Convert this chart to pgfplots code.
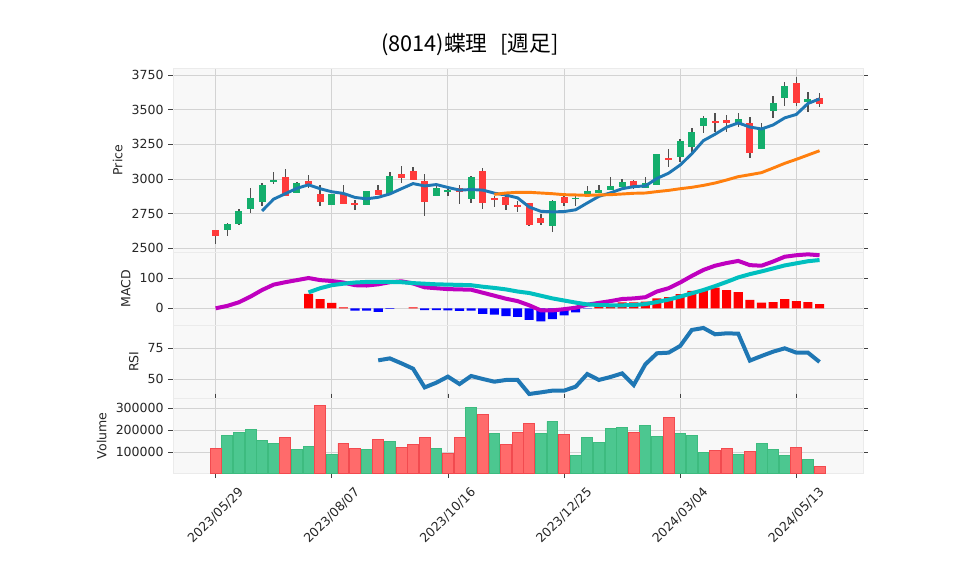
\documentclass[border=0pt]{standalone}
\usepackage{fontspec}
\setmainfont{DejaVu Sans}
\newfontfamily\jpfont{Noto Sans CJK JP}
\usepackage{pgfplots}
\usepackage{pgfplotstable}
\pgfplotsset{compat=1.18}

\definecolor{upc}{HTML}{14AE6C}
\definecolor{dnc}{HTML}{FF3B3B}
\definecolor{wick}{HTML}{505050}
\definecolor{ma5}{HTML}{1F77B4}
\definecolor{ma25}{HTML}{FF7F0E}
\definecolor{macdc}{HTML}{BF00BF}
\definecolor{sigc}{HTML}{00BFBF}
\definecolor{vup}{HTML}{4CC790}
\definecolor{vupe}{HTML}{3DBB7F}
\definecolor{vdn}{HTML}{FF6B6B}
\definecolor{vdne}{HTML}{F24A4F}
\definecolor{panel}{HTML}{F8F8F8}
\definecolor{gridc}{HTML}{D3D3D3}

% weekly candles, i = weeks since 2023/05/29
\pgfplotstableread{
i O H L C
1 2635 2685 2589 2675
2 2678 2786 2670 2769
3 2786 2933 2752 2863
4 2836 2969 2808 2954
5 2983 3048 2964 2993
7 2897 2981 2897 2969
10 2815 2895 2810 2889
13 2815 2915 2810 2911
15 2889 3048 2889 3019
19 2875 2954 2875 2935
20 2909 2935 2878 2920
22 2853 3022 2824 3014
29 2659 2849 2620 2839
31 2863 2889 2808 2866
32 2894 2947 2868 2911
33 2901 2959 2901 2920
34 2923 3012 2923 2949
35 2942 3000 2942 2978
37 2938 3017 2938 2969
38 2959 3178 2959 3178
40 3159 3286 3125 3274
41 3233 3365 3173 3339
42 3380 3454 3329 3440
45 3401 3474 3377 3430
47 3219 3401 3214 3365
48 3488 3601 3438 3548
49 3582 3697 3526 3668
51 3553 3630 3486 3577
}\upcandles

\pgfplotstableread{
i O H L C
0 2630 2635 2529 2591
6 3012 3070 2877 2877
8 2983 3026 2933 2964
9 2889 2959 2805 2832
11 2901 2959 2822 2822
12 2824 2846 2776 2815
14 2920 2959 2884 2884
16 3034 3096 2969 3010
17 3055 3089 2993 2993
18 2983 3034 2735 2836
21 2935 2959 2820 2904
23 3055 3077 2783 2829
24 2865 2880 2800 2851
25 2870 2887 2774 2815
26 2812 2839 2764 2800
27 2824 2824 2661 2670
28 2719 2748 2666 2685
30 2873 2889 2808 2824
36 2983 2993 2926 2945
39 3151 3214 3084 3144
43 3416 3474 3341 3406
44 3425 3459 3336 3406
46 3404 3450 3149 3190
50 3690 3733 3529 3550
52 3582 3618 3522 3538
}\dncandles

\pgfplotstableread{
i V
1 177000
2 191000
3 205000
4 155000
5 141000
7 114000
8 127000
10 91000
13 114000
15 150000
19 118000
22 305000
24 186000
28 186000
29 241000
31 86000
32 168000
33 145000
34 209000
35 214000
37 223000
38 173000
40 186000
41 177000
42 100000
45 91000
47 141000
48 114000
49 86000
51 68000
}\volup

\pgfplotstableread{
i V
0 118000
6 168000
9 312000
11 141000
12 118000
14 159000
16 123000
17 136000
18 168000
20 95000
21 168000
23 273000
25 136000
26 191000
27 232000
30 182000
36 191000
39 259000
43 109000
44 118000
46 105000
50 123000
52 36000
}\voldn

\pgfplotstableread{
i h
8 48
9 31
10 18
11 3
17 3
33 5
34 14
35 20
36 20
37 22
38 33
39 37
40 47
41 58
42 63
43 69
44 61
45 54
46 28
47 19
48 21
49 31
50 24
51 21
52 14
}\histpos

\pgfplotstableread{
i h
12 -8
13 -8
14 -12
15 -2
18 -6
19 -6
20 -7
21 -9
22 -8
23 -19
24 -21
25 -26
26 -29
27 -39
28 -44
29 -36
30 -24
31 -14
32 -1
}\histneg

\pgfplotsset{
  panel/.style={
    scale only axis, width=517.5pt, anchor=south west,
    xmin=-3.67, xmax=55.74,
    axis background/.style={fill=panel},
    axis line style={draw=black!8},
    grid=major, grid style={draw=gridc, line width=0.7pt},
    xtick={0,10,...,50},
    tick align=outside, major tick length=3.5pt,
    tick style={draw=black!75, line width=0.6pt},
    ticklabel style={font=\fontsize{9.4}{11}\selectfont, text=black!85},
    label style={font=\fontsize{9.4}{11}\selectfont, text=black!85},
    /pgf/number format/assume math mode=true,
    /pgf/number format/1000 sep={},
    scaled y ticks=false,
  },
  nox/.style={xticklabels={}, xtick style={draw=none}},
  stick/.style={only marks, mark=*, mark size=0pt,
    mark options={draw opacity=0, fill opacity=0}, forget plot},
}

\begin{document}
\begin{tikzpicture}
\path[use as bounding box] (0,0) rectangle (718.5pt,431.25pt);

\node[font=\jpfont\fontsize{16.3}{19}\selectfont] at (352.5pt,397.5pt) {(8014)蝶理\hspace{0.6em}[週足]};

% price
\begin{axis}[panel, nox, at={(129.75pt,242pt)}, height=138.2pt,
  ymin=2471, ymax=3800.5, ytick={2500,2750,...,3750}, ylabel={Price}]
\addplot[stick,
  error bars/.cd, y dir=both, y explicit, error mark=none,
  error bar style={draw=wick, line width=1.1pt}]
  table[x=i, y expr={(\thisrow{H}+\thisrow{L})/2}, y error expr={(\thisrow{H}-\thisrow{L})/2}] {\upcandles};
\addplot[stick,
  error bars/.cd, y dir=both, y explicit, error mark=none,
  error bar style={draw=wick, line width=1.1pt}]
  table[x=i, y expr={(\thisrow{H}+\thisrow{L})/2}, y error expr={(\thisrow{H}-\thisrow{L})/2}] {\dncandles};
\addplot[stick,
  error bars/.cd, y dir=both, y explicit, error mark=none,
  error bar style={draw=upc, line width=5.25pt}]
  table[x=i, y expr={(\thisrow{O}+\thisrow{C})/2}, y error expr={(\thisrow{C}-\thisrow{O})/2}] {\upcandles};
\addplot[stick,
  error bars/.cd, y dir=both, y explicit, error mark=none,
  error bar style={draw=dnc, line width=5.25pt}]
  table[x=i, y expr={(\thisrow{O}+\thisrow{C})/2}, y error expr={(\thisrow{O}-\thisrow{C})/2}] {\dncandles};
% 5-week and 25-week moving averages
\addplot[ma5, line width=2.2pt] coordinates {
(4,2770)(5,2855)(6,2894)(7,2933)(8,2958)(9,2930)(10,2908)(11,2896)(12,2867)
(13,2857)(14,2868)(15,2892)(16,2930)(17,2967)(18,2950)(19,2960)(20,2939)
(21,2920)(22,2924)(23,2920)(24,2898)(25,2884)(26,2864)(27,2798)(28,2767)
(29,2763)(30,2765)(31,2778)(32,2827)(33,2875)(34,2900)(35,2930)(36,2945)
(37,2950)(38,3004)(39,3042)(40,3101)(41,3182)(42,3277)(43,3323)(44,3374)
(45,3405)(46,3375)(47,3361)(48,3390)(49,3441)(50,3466)(51,3545)(52,3578)};
\addplot[ma25, line width=2.2pt] coordinates {
(24,2889)(25,2899)(26,2904)(27,2904)(28,2899)(29,2894)(30,2887)(31,2885)
(32,2882)(33,2885)(34,2887)(35,2892)(36,2897)(37,2899)(38,2909)(39,2918)
(40,2930)(41,2940)(42,2954)(43,2971)(44,2993)(45,3017)(46,3031)(47,3046)
(48,3079)(49,3113)(50,3142)(51,3173)(52,3204)};
\end{axis}

% MACD
\begin{axis}[panel, nox, at={(129.75pt,187.5pt)}, height=54.5pt,
  ymin=-55.7, ymax=186.7, ytick={0,100}, ylabel={MACD}]
\addplot[ybar, bar width=0.78, bar shift=0pt, fill=red, draw=none] table[x=i, y=h] {\histpos};
\addplot[ybar, bar width=0.78, bar shift=0pt, fill=blue, draw=none] table[x=i, y=h] {\histneg};
\addplot[macdc, line width=3pt] coordinates {
(0,0)(1,8)(2,20)(3,39)(4,61)(5,79)(6,87)(7,94)(8,101)(9,94)(10,91)(11,86)
(12,77)(13,76)(14,80)(15,87)(16,90)(17,83)(18,70)(19,67)(20,64)(21,63)
(22,62)(23,52)(24,42)(25,32)(26,24)(27,10)(28,-7)(29,-7)(30,-3)(31,2)
(32,12)(33,18)(34,24)(35,31)(36,33)(37,37)(38,56)(39,67)(40,86)(41,108)
(42,128)(43,142)(44,151)(45,158)(46,144)(47,142)(48,156)(49,172)(50,177)
(51,180)(52,177)};
\addplot[sigc, line width=3pt] coordinates {
(8,53)(9,67)(10,77)(11,82)(12,86)(13,88)(14,88)(15,88)(16,87)(17,84)(18,82)
(19,80)(20,79)(21,78)(22,77)(23,72)(24,68)(25,63)(26,56)(27,51)(28,42)
(29,33)(30,26)(31,19)(32,13)(33,11)(34,10)(35,10)(36,11)(37,14)(38,21)
(39,29)(40,39)(41,50)(42,61)(43,74)(44,88)(45,103)(46,114)(47,123)(48,133)
(49,143)(50,150)(51,157)(52,161)};
\end{axis}

% RSI
\begin{axis}[panel, nox, at={(129.75pt,132.5pt)}, height=55pt,
  ymin=34.7, ymax=93.8, ytick={50,75}, ylabel={RSI}]
\addplot[ma5, line width=3pt] coordinates {
(14,65.3)(15,66.9)(16,62.9)(17,58.6)(18,43.5)(19,47.3)(20,52.2)(21,46.2)
(22,52.7)(23,50.3)(24,48.1)(25,49.5)(26,49.5)(27,38.2)(28,39.5)(29,40.9)
(30,40.9)(31,44.1)(32,54.3)(33,49.5)(34,51.9)(35,54.8)(36,45.4)(37,62.1)
(38,71.0)(39,71.5)(40,76.9)(41,89.8)(42,91.4)(43,86.3)(44,87.1)(45,86.8)
(46,65.1)(47,68.8)(48,72.3)(49,75.0)(50,71.5)(51,71.5)(52,64.0)};
\end{axis}

% volume
\begin{axis}[panel, at={(129.75pt,76.1pt)}, height=56.4pt,
  ymin=3600, ymax=345400, ytick={100000,200000,300000},
  yticklabels={100000,200000,300000}, ylabel={Volume},
  xticklabels={2023/05/29,2023/08/07,2023/10/16,2023/12/25,2024/03/04,2024/05/13},
  xticklabel style={yshift=-28pt, rotate=45, anchor=center}]
\addplot[ybar, bar width=0.94, bar shift=0pt, fill=vup, draw=vupe, line width=0.6pt] table[x=i, y=V] {\volup};
\addplot[ybar, bar width=0.94, bar shift=0pt, fill=vdn, draw=vdne, line width=0.6pt] table[x=i, y=V] {\voldn};
\end{axis}
\end{tikzpicture}
\end{document}
